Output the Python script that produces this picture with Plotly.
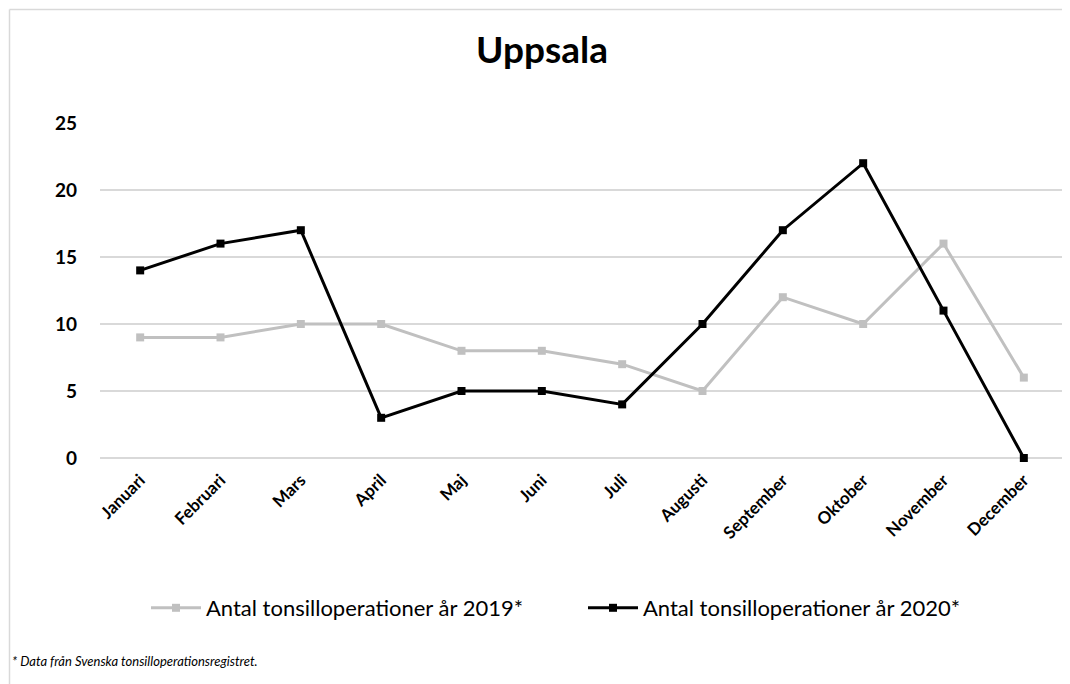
import plotly.graph_objects as go

months = ["Januari", "Februari", "Mars", "April", "Maj", "Juni", "Juli",
          "Augusti", "September", "Oktober", "November", "December"]
ops_2019 = [9, 9, 10, 10, 8, 8, 7, 5, 12, 10, 16, 6]
ops_2020 = [14, 16, 17, 3, 5, 5, 4, 10, 17, 22, 11, 0]
name_2019 = "Antal tonsilloperationer år 2019*"
name_2020 = "Antal tonsilloperationer år 2020*"
y_ticks = [0, 5, 10, 15, 20, 25]

FONT = "Lato"
OFF = 8  # browser body margin
W, H = 1070 - OFF, 684 - OFF
L, R, T, B = 100 - OFF, 6, 123 - OFF, 684 - 458
PW, PH = W - L - R, H - T - B


def px_x(p):
    return (p - OFF - L) / PW


def px_y(p):
    return (H - B - (p - OFF)) / PH


fig = go.Figure()
fig.add_trace(go.Scatter(
    x=months, y=ops_2019, name=name_2019, mode="lines+markers",
    line=dict(color="#c0c0c0", width=3),
    marker=dict(symbol="square", size=8, color="#c0c0c0"),
    cliponaxis=False))
fig.add_trace(go.Scatter(
    x=months, y=ops_2020, name=name_2020, mode="lines+markers",
    line=dict(color="#000000", width=3),
    marker=dict(symbol="square", size=8, color="#000000"),
    cliponaxis=False))

shapes = [
    dict(type="line", xref="paper", yref="paper",
         x0=px_x(9.5), x1=px_x(1075), y0=px_y(9.5), y1=px_y(9.5),
         line=dict(color="#d9d9d9", width=1.5)),
    dict(type="line", xref="paper", yref="paper",
         x0=px_x(9.5), x1=px_x(9.5), y0=px_y(9.5), y1=px_y(690),
         line=dict(color="#d9d9d9", width=1.5)),
]

fig.update_layout(
    width=W, height=H,
    margin=dict(l=L, r=R, t=T, b=B, autoexpand=False),
    paper_bgcolor="white", plot_bgcolor="white",
    font=dict(family=FONT, color="#000000"),
    title=dict(text="<b>Uppsala</b>", x=px_x(542), xanchor="center",
               xref="paper", y=1 - (50 - OFF) / H, yanchor="middle",
               font=dict(size=37, family=FONT, color="#000000")),
    xaxis=dict(type="category", range=[-0.5, len(months) - 0.5], tickangle=-45,
               showgrid=False, showline=False,
               automargin=False, ticks="", ticklabelstandoff=8,
               tickfont=dict(size=17, family=FONT, color="#000000", weight="bold")),
    yaxis=dict(range=[0, 25], tickvals=y_ticks, showgrid=True, gridcolor="#d9d9d9",
               gridwidth=1.5, zeroline=True, zerolinecolor="#d9d9d9", zerolinewidth=1.5,
               showline=False, ticks="", automargin=False, ticklabelstandoff=22,
               tickfont=dict(size=19, family=FONT, color="#000000", weight="bold")),
    showlegend=True,
    legend=dict(orientation="h", x=px_x(583), xanchor="center", y=px_y(608), yanchor="middle",
                font=dict(size=22, family=FONT, color="#000000"),
                entrywidth=372, itemwidth=50),
    shapes=shapes,
    annotations=[dict(text="<i>* Data från Svenska tonsilloperationsregistret.</i>",
                      xref="paper", yref="paper", x=px_x(10), y=px_y(661),
                      xanchor="left", yanchor="middle", showarrow=False,
                      font=dict(size=13, family=FONT, color="#000000"))],
)

fig.write_html("out.html")
